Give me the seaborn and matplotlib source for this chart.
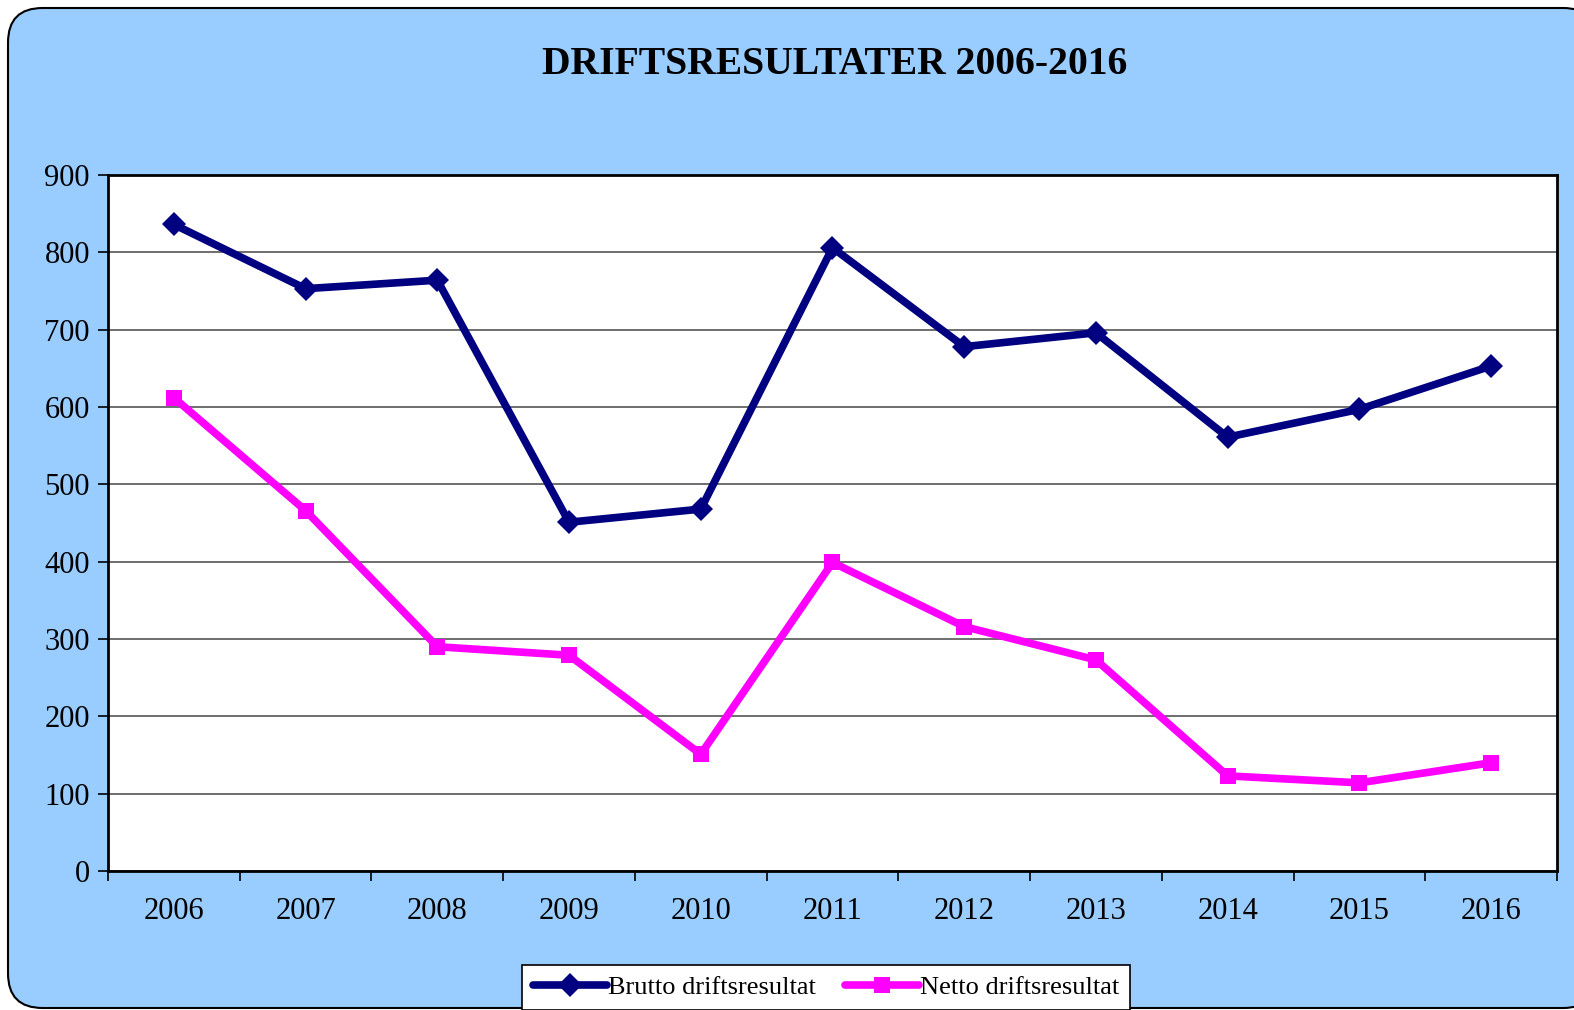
import pandas as pd
import matplotlib.pyplot as plt
import seaborn as sns
from matplotlib.patches import FancyBboxPatch

# data
years = [2006, 2007, 2008, 2009, 2010, 2011, 2012, 2013, 2014, 2015, 2016]
brutto = [836, 753, 764, 451, 468, 806, 678, 696, 561, 597, 653]
netto = [612, 466, 290, 279, 151, 399, 316, 273, 123, 114, 140]

df = pd.DataFrame({'year': years, 'Brutto driftsresultat': brutto, 'Netto driftsresultat': netto})

sns.set_style('white')
plt.rcParams['font.family'] = ['Liberation Serif', 'DejaVu Serif']
plt.rcParams['text.color'] = 'black'
plt.rcParams['xtick.color'] = 'black'
plt.rcParams['ytick.color'] = 'black'

fig = plt.figure(figsize=(15.74, 10.10), dpi=100)
fig.patch.set_facecolor('white')

# rounded light blue chart background
bg = FancyBboxPatch((8 / 1574, 2 / 1010), 1.01, 1 - 10 / 1010,
                    boxstyle='round,pad=0,rounding_size=0.022',
                    transform=fig.transFigure, facecolor='#99CCFF',
                    edgecolor='black', linewidth=1.5, zorder=-10,
                    mutation_aspect=1574 / 1010)
fig.patches.append(bg)

ax = fig.add_axes([108 / 1574, 1 - 871 / 1010, (1557 - 108) / 1574, (871 - 175) / 1010])
ax.set_facecolor('white')

sns.lineplot(data=df, x='year', y='Brutto driftsresultat', ax=ax, color='#000080',
             linewidth=5.5, marker='D', markersize=12, markeredgewidth=0,
             label='Brutto driftsresultat')
sns.lineplot(data=df, x='year', y='Netto driftsresultat', ax=ax, color='#FF00FF',
             linewidth=5.5, marker='s', markersize=12, markeredgewidth=0,
             label='Netto driftsresultat')

ax.set_xlim(2005.5, 2016.5)
ax.set_ylim(0, 900)
ax.set_yticks(range(0, 901, 100))
ax.set_xticks(years)
ax.set_xticks([y - 0.5 for y in years] + [2016.5], minor=True)
ax.tick_params(axis='x', which='major', bottom=False, length=0, pad=19, labelsize=22)
ax.tick_params(axis='x', which='minor', bottom=True, length=7, width=1.2, direction='out', color='black')
ax.tick_params(axis='y', left=True, length=7, width=1.2, direction='out', pad=6, labelsize=22, color='black')
ax.grid(axis='y', color='#555555', linewidth=1.2)
ax.set_axisbelow(True)
for s in ax.spines.values():
    s.set_visible(True)
    s.set_color('black')
    s.set_linewidth(2)
ax.set_xlabel('')
ax.set_ylabel('')

fig.text(0.53, 1 - 64 / 1010, 'DRIFTSRESULTATER 2006-2016', ha='center', va='center',
         fontsize=28.5, fontweight='bold', color='black')

leg = ax.legend(loc='lower center', bbox_to_anchor=(826 / 1574, 0 / 1010),
                bbox_transform=fig.transFigure, ncol=2, frameon=True, fancybox=False,
                edgecolor='black', facecolor='white', framealpha=1, fontsize=19,
                handlelength=2.8, handletextpad=0.05,
                columnspacing=1.1, borderpad=0.4, borderaxespad=0)
leg.get_frame().set_linewidth(1.2)

plt.savefig('out.png', dpi=100)
